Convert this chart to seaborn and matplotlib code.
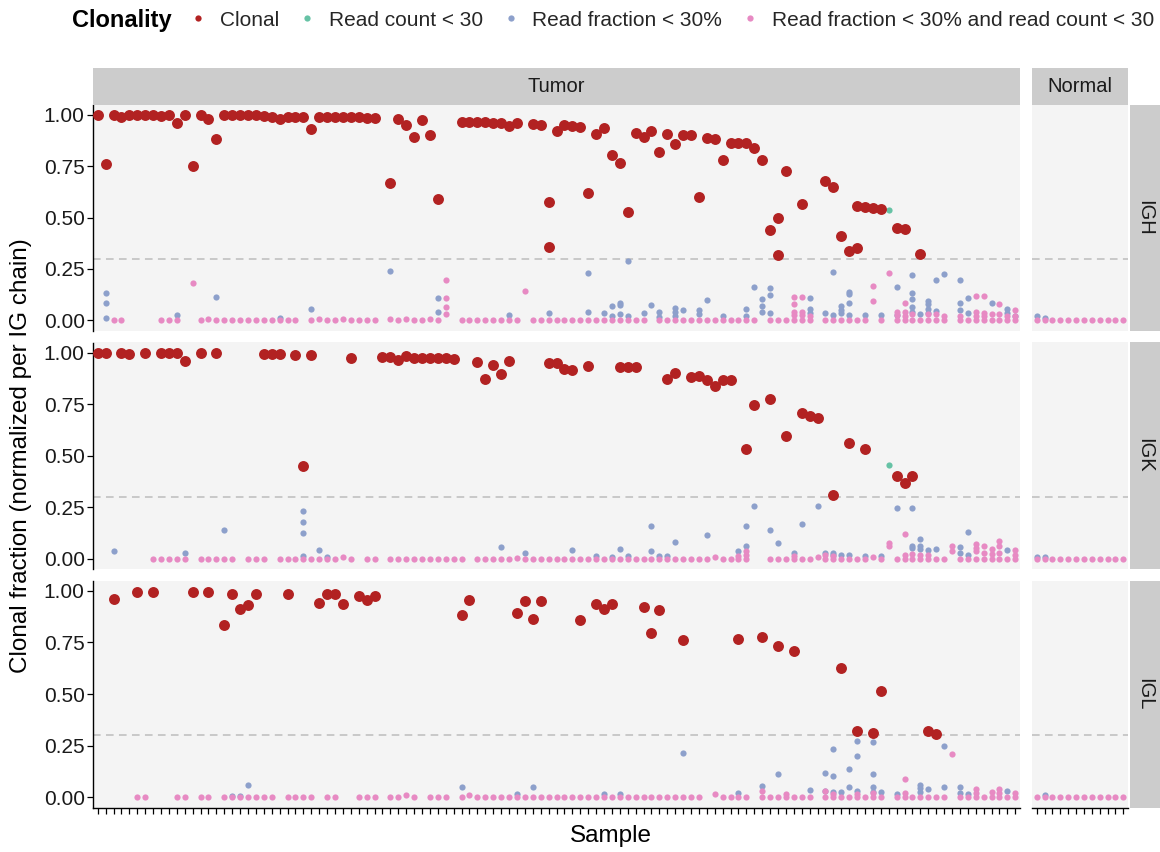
import matplotlib
matplotlib.use("Agg")
import matplotlib.pyplot as plt
import pandas as pd
import seaborn as sns
from matplotlib.lines import Line2D

sns.set_theme(style="white")
plt.rcParams['font.family'] = ['Liberation Sans', 'DejaVu Sans']

N_TUMOR = 117
N_NORMAL = 12
chains = ["IGH", "IGK", "IGL"]
groups = ["Tumor", "Normal"]
clonality_levels = ["Clonal", "Read count < 30", "Read fraction < 30%",
                    "Read fraction < 30% and read count < 30"]
palette = {"Clonal": "#B22222", "Read count < 30": "#66C2A5",
           "Read fraction < 30%": "#8DA0CB",
           "Read fraction < 30% and read count < 30": "#E78AC3"}

# ---------------- IGH (tumor) : (sample index, clonal fraction) ----------------
igh_clonal = [(0,1.00),(1,0.76),(2,1.00),(3,0.99),(4,1.00),(5,1.00),(6,1.00),(7,1.00),(8,0.995),
              (9,1.00),(10,0.96),(11,1.00),(12,0.75),(13,1.00),(14,0.98),(15,0.88),(16,1.00),(17,1.00),
              (18,1.00),(19,1.00),(20,1.00),(21,0.995),(22,0.99),(23,0.98),(24,0.99),(25,0.99),(26,0.99),
              (27,0.93),(28,0.99),(29,0.99),(30,0.99),(31,0.99),(32,0.99),(33,0.99),(34,0.985),(35,0.985),
              (37,0.67),(38,0.98),(39,0.95),(40,0.89),(41,0.975),(42,0.90),(43,0.59),(46,0.967),(47,0.967),
              (48,0.965),(49,0.963),(50,0.96),(51,0.96),(52,0.946),(53,0.96),(55,0.956),(56,0.95),
              (57,0.577),(57,0.356),(58,0.92),(59,0.95),(60,0.947),(61,0.94),(62,0.62),(63,0.907),
              (64,0.935),(65,0.805),(66,0.764),(67,0.527),(68,0.91),(69,0.89),(70,0.92),(71,0.82),
              (72,0.907),(73,0.857),(74,0.90),(75,0.90),(76,0.60),(77,0.886),(78,0.883),(79,0.78),
              (80,0.865),(81,0.865),(82,0.862),(83,0.837),(84,0.78),(85,0.44),(86,0.50),(86,0.317),
              (87,0.728),(89,0.567),(92,0.676),(93,0.647),(94,0.411),(95,0.335),(96,0.558),(96,0.351),
              (97,0.553),(98,0.548),(99,0.541),(101,0.449),(102,0.445),(104,0.323)]
igh_readcount = [(100,0.538)]
igh_readfrac = [(1,0.133),(1,0.086),(1,0.013),(10,0.024),(15,0.115),(23,0.01),(27,0.055),(37,0.24),
                (43,0.107),(43,0.04),(52,0.025),(57,0.035),(62,0.228),(62,0.04),(64,0.035),(65,0.07),
                (65,0.02),(66,0.085),(66,0.075),(66,0.03),(67,0.29),(67,0.02),(69,0.035),(70,0.075),
                (71,0.04),(71,0.015),(73,0.06),(73,0.04),(73,0.02),(74,0.05),(76,0.05),(76,0.03),
                (77,0.10),(79,0.02),(82,0.055),(82,0.02),(83,0.16),(84,0.102),(84,0.07),(84,0.038),
                (85,0.155),(85,0.125),(85,0.033),(90,0.107),(90,0.055),(90,0.033),(92,0.033),(93,0.237),
                (93,0.024),(94,0.07),(94,0.052),(94,0.033),(95,0.138),(95,0.128),(95,0.084),(95,0.024),
                (97,0.024),(99,0.024),(101,0.161),(101,0.024),(103,0.221),(103,0.133),(103,0.102),
                (103,0.065),(103,0.041),(104,0.03),(105,0.094),(105,0.078),(105,0.057),(105,0.033),
                (106,0.194),(106,0.044),(107,0.224),(109,0.194),(109,0.084),(109,0.049),(110,0.11),
                (110,0.033),(113,0.086),(115,0.057),(115,0.033),(116,0.02)]
igh_both = [(12,0.18),(44,0.198),(44,0.106),(44,0.066),(44,0.03),(54,0.14),(88,0.114),(88,0.078),
            (88,0.04),(88,0.025),(89,0.114),(89,0.04),(89,0.025),(90,0.02),(98,0.169),(98,0.096),
            (100,0.229),(101,0.04),(101,0.025),(102,0.084),(102,0.04),(102,0.02),(103,0.03),(105,0.03),
            (106,0.03),(107,0.02),(109,0.02),(111,0.118),(111,0.04),(111,0.02),(112,0.118),(112,0.035),
            (112,0.02),(113,0.03),(114,0.08),(114,0.03),(115,0.02),(116,0.05),(116,0.02),
            (2,0.0),(3,0.0),(8,0.0),(9,0.0),(10,0.0),(13,0.0),(14,0.006),(15,0.0),(16,0.0),(17,0.0),
            (18,0.0),(19,0.0),(20,0.0),(21,0.0),(22,0.0),(23,0.0),(24,0.0),(25,0.0),(27,0.0),(28,0.006),
            (29,0.0),(30,0.0),(31,0.006),(32,0.0),(33,0.0),(34,0.0),(35,0.0),(37,0.006),(38,0.0),
            (39,0.006),(40,0.0),(41,0.0),(42,0.008),(43,0.0),(46,0.0),(47,0.003),(48,0.0),(49,0.0),
            (50,0.0),(51,0.0),(52,0.0),(53,0.0),(55,0.0),(56,0.0),(57,0.0),(58,0.0),(59,0.0),(60,0.0),
            (61,0.0),(62,0.0),(63,0.0),(64,0.0),(65,0.0),(66,0.0),(67,0.0),(68,0.0),(69,0.0),(71,0.0),
            (72,0.0),(73,0.0),(74,0.0),(75,0.0),(76,0.0),(77,0.0),(78,0.0),(79,0.0),(80,0.0),(81,0.0),
            (82,0.0),(83,0.0),(85,0.0),(86,0.0),(87,0.0),(88,0.0),(89,0.0),(90,0.0),(92,0.0),(93,0.0),
            (94,0.0),(95,0.0),(96,0.0),(97,0.0),(99,0.0),(101,0.0),(102,0.0),(103,0.0),(104,0.0),
            (105,0.0),(106,0.0),(107,0.0),(109,0.0),(110,0.0),(111,0.0),(112,0.0),(113,0.0),(114,0.0),
            (115,0.0),(116,0.0)]

# ---------------- IGK (tumor) ----------------
igk_clonal = [(0,1.00),(1,1.00),(3,1.00),(4,0.995),(6,1.00),(8,1.00),(9,1.00),(10,1.00),(11,0.961),
              (13,0.997),(15,0.997),(21,0.995),(22,0.995),(23,0.995),(25,0.99),(26,0.451),(27,0.99),
              (32,0.977),(36,0.98),(37,0.98),(38,0.963),(39,0.985),(40,0.977),(41,0.975),(42,0.975),
              (43,0.973),(44,0.973),(45,0.97),(48,0.953),(49,0.875),(50,0.94),(51,0.898),(52,0.958),
              (57,0.95),(58,0.95),(59,0.92),(60,0.917),(62,0.938),(66,0.932),(67,0.93),(68,0.93),
              (72,0.872),(73,0.903),(75,0.883),(76,0.885),(77,0.866),(78,0.838),(79,0.869),(80,0.869),
              (82,0.532),(83,0.746),(85,0.777),(87,0.596),(89,0.709),(90,0.693),(91,0.681),(93,0.309),
              (95,0.563),(97,0.532),(101,0.401),(102,0.367),(103,0.40)]
igk_readcount = [(100,0.453)]
igk_readfrac = [(2,0.039),(11,0.028),(16,0.137),(26,0.233),(26,0.178),(26,0.125),(26,0.011),(28,0.044),
                (29,0.01),(51,0.057),(54,0.03),(60,0.04),(63,0.012),(65,0.01),(66,0.045),(67,0.015),
                (70,0.157),(70,0.035),(71,0.015),(72,0.015),(73,0.079),(77,0.115),(81,0.035),(82,0.157),
                (82,0.06),(83,0.254),(85,0.137),(86,0.074),(88,0.03),(89,0.167),(91,0.257),(92,0.03),
                (93,0.03),(93,0.02),(94,0.02),(95,0.02),(97,0.015),(99,0.015),(101,0.244),(103,0.244),
                (103,0.06),(103,0.05),(104,0.094),(104,0.06),(104,0.045),(105,0.04),(106,0.045),
                (109,0.055),(109,0.03),(110,0.131),(110,0.02),(115,0.04)]
igk_both = [(82,0.035),(82,0.02),(100,0.076),(100,0.06),(102,0.12),(102,0.02),(108,0.06),(108,0.035),
            (111,0.07),(111,0.05),(111,0.035),(112,0.06),(112,0.03),(113,0.045),(113,0.025),(114,0.087),
            (114,0.06),(114,0.03),(116,0.04),(116,0.02),(81,0.015),(88,0.015),(92,0.02),(93,0.015),
            (103,0.025),(104,0.02),(105,0.02),
            (7,0.0),(8,0.0),(9,0.0),(10,0.0),(11,0.0),(13,0.0),(14,0.0),(15,0.0),(16,0.0),(17,0.0),
            (19,0.0),(20,0.0),(21,0.0),(23,0.0),(24,0.0),(25,0.0),(26,0.0),(27,0.0),(28,0.0),(29,0.0),
            (30,0.0),(31,0.01),(32,0.0),(34,0.0),(35,0.0),(37,0.0),(38,0.0),(39,0.0),(40,0.0),(41,0.0),
            (42,0.0),(43,0.0),(44,0.0),(45,0.0),(46,0.0),(48,0.0),(49,0.0),(50,0.0),(51,0.0),(52,0.0),
            (53,0.005),(54,0.0),(55,0.0),(56,0.0),(57,0.0),(58,0.0),(59,0.0),(60,0.0),(61,0.0),(62,0.0),
            (63,0.0),(64,0.0),(65,0.0),(66,0.0),(67,0.0),(68,0.0),(69,0.0),(70,0.0),(71,0.0),(72,0.0),
            (73,0.0),(74,0.0),(75,0.0),(76,0.0),(77,0.0),(78,0.008),(79,0.0),(80,0.0),(81,0.0),(82,0.0),
            (85,0.0),(86,0.0),(87,0.0),(88,0.0),(89,0.0),(90,0.0),(91,0.01),(92,0.0),(93,0.0),(94,0.0),
            (95,0.0),(96,0.0),(97,0.0),(98,0.01),(99,0.0),(101,0.0),(102,0.0),(103,0.0),(104,0.0),
            (105,0.0),(106,0.0),(107,0.0),(109,0.0),(110,0.0),(111,0.0),(112,0.0),(113,0.0),(114,0.0),
            (115,0.0),(116,0.0)]

# ---------------- IGL (tumor) ----------------
igl_clonal = [(2,0.96),(5,0.995),(7,0.995),(12,0.995),(14,0.995),(16,0.832),(17,0.985),(18,0.913),
              (19,0.93),(20,0.985),(24,0.985),(28,0.942),(29,0.985),(30,0.985),(31,0.938),(33,0.974),
              (34,0.955),(35,0.974),(46,0.885),(47,0.956),(53,0.893),(54,0.953),(55,0.862),(56,0.953),
              (61,0.861),(63,0.934),(64,0.914),(65,0.934),(69,0.924),(70,0.796),(71,0.909),(74,0.764),
              (81,0.767),(84,0.778),(86,0.735),(88,0.707),(94,0.628),(96,0.319),(98,0.309),(99,0.516),
              (105,0.322),(106,0.306)]
igl_readcount = []
igl_readfrac = [(19,0.058),(17,0.005),(18,0.005),(46,0.049),(53,0.015),(55,0.05),(64,0.015),(66,0.015),
                (74,0.214),(81,0.02),(84,0.055),(86,0.11),(90,0.035),(92,0.117),(92,0.03),(93,0.232),
                (93,0.105),(93,0.025),(94,0.025),(95,0.137),(95,0.05),(96,0.272),(96,0.199),(96,0.03),
                (98,0.268),(98,0.11),(98,0.05),(98,0.025),(99,0.025),(101,0.015),(104,0.06),(104,0.045),
                (104,0.025),(105,0.04),(107,0.246),(107,0.05),(109,0.05),(109,0.02),(110,0.015),(115,0.03)]
igl_both = [(84,0.03),(92,0.03),(93,0.015),(96,0.015),(98,0.02),(102,0.086),(102,0.02),(108,0.207),
            (111,0.04),(111,0.02),(113,0.025),(114,0.04),(114,0.02),(116,0.02),(87,0.015),
            (5,0.0),(6,0.0),(10,0.0),(11,0.0),(13,0.0),(14,0.0),(16,0.0),(17,0.0),(18,0.0),(19,0.0),
            (20,0.0),(21,0.0),(22,0.0),(24,0.0),(25,0.0),(26,0.0),(27,0.0),(29,0.0),(30,0.0),(33,0.0),
            (34,0.0),(35,0.0),(37,0.0),(38,0.0),(39,0.01),(40,0.0),(42,0.0),(43,0.0),(44,0.0),(46,0.0),
            (47,0.01),(48,0.0),(49,0.0),(50,0.0),(51,0.0),(52,0.0),(53,0.0),(54,0.0),(55,0.0),(56,0.0),
            (57,0.0),(58,0.0),(59,0.0),(60,0.0),(61,0.0),(62,0.0),(63,0.0),(64,0.0),(65,0.0),(66,0.0),
            (67,0.0),(68,0.0),(69,0.0),(70,0.0),(71,0.0),(72,0.0),(73,0.0),(74,0.0),(75,0.0),(76,0.0),
            (78,0.015),(79,0.0),(80,0.0),(81,0.0),(82,0.0),(84,0.0),(85,0.0),(86,0.0),(87,0.0),(88,0.0),
            (89,0.0),(90,0.0),(92,0.0),(93,0.0),(94,0.0),(95,0.0),(96,0.0),(97,0.0),(98,0.0),(99,0.0),
            (101,0.0),(102,0.0),(103,0.0),(104,0.0),(105,0.0),(106,0.0),(107,0.0),(109,0.0),(110,0.0),
            (111,0.0),(112,0.0),(113,0.0),(114,0.0),(115,0.0),(116,0.0)]

# ---------------- Normal samples ----------------
normal_igh_readfrac = [(0,0.02),(1,0.01)]
normal_igh_both = [(0,0.0),(1,0.0),(2,0.0),(3,0.0),(4,0.0),(5,0.0),(6,0.0),(7,0.0),(8,0.0),(9,0.0),(10,0.0),(11,0.0)]
normal_igk_readfrac = [(0,0.008),(1,0.006)]
normal_igk_both = [(0,0.0),(1,0.0),(2,0.0),(3,0.0),(4,0.0),(5,0.0),(6,0.0),(7,0.0),(8,0.0),(9,0.0),(10,0.0),(11,0.0)]
normal_igl_readfrac = [(1,0.012)]
normal_igl_both = [(0,0.0),(1,0.0),(2,0.0),(3,0.0),(4,0.0),(5,0.0),(6,0.0),(7,0.0),(8,0.0),(9,0.0),(10,0.0),(11,0.0)]

y_ticks = [0.0, 0.25, 0.5, 0.75, 1.0]
y_tick_labels = ["0.00", "0.25", "0.50", "0.75", "1.00"]
threshold = 0.3

# ---------------- build long table ----------------
records = []
def add(chain, group, cls, pts):
    for s, v in pts:
        records.append((chain, group, s, v, cls))

tumor_sets = {"IGH": (igh_clonal, igh_readcount, igh_readfrac, igh_both),
              "IGK": (igk_clonal, igk_readcount, igk_readfrac, igk_both),
              "IGL": (igl_clonal, igl_readcount, igl_readfrac, igl_both)}
normal_sets = {"IGH": ([], [], normal_igh_readfrac, normal_igh_both),
               "IGK": ([], [], normal_igk_readfrac, normal_igk_both),
               "IGL": ([], [], normal_igl_readfrac, normal_igl_both)}
for ch in chains:
    for grp, sets in (("Tumor", tumor_sets), ("Normal", normal_sets)):
        for cls, pts in zip(clonality_levels, sets[ch]):
            add(ch, grp, cls, pts)
df = pd.DataFrame(records, columns=["chain", "group", "sample", "fraction", "clonality"])

# ---------------- layout ----------------
W, H = 1160, 852
fig = plt.figure(figsize=(W / 100, H / 100), dpi=100)

def add_ax(x0, y0, x1, y1):
    return fig.add_axes([x0 / W, 1 - y1 / H, (x1 - x0) / W, (y1 - y0) / H])

col_x = {"Tumor": (93, 1020), "Normal": (1032, 1128)}
row_y = {"IGH": (104.5, 330.5), "IGK": (342.5, 569.0), "IGL": (580.5, 807.5)}
nsamp = {"Tumor": N_TUMOR, "Normal": N_NORMAL}
draw_order = [("Read fraction < 30%", 20), ("Read fraction < 30% and read count < 30", 20),
              ("Read count < 30", 20), ("Clonal", 62)]

for ch in chains:
    for grp in groups:
        ax = add_ax(col_x[grp][0], row_y[ch][0], col_x[grp][1], row_y[ch][1])
        ax.set_facecolor("#F4F4F4")
        ax.axhline(threshold, color="#BDBDBD", lw=1.1, ls=(0, (5, 3.5)), zorder=1)
        sub = df[(df.chain == ch) & (df.group == grp)]
        for cls, size in draw_order:
            d = sub[sub.clonality == cls]
            if len(d):
                sns.scatterplot(data=d, x="sample", y="fraction", color=palette[cls], s=size,
                                linewidth=0, ax=ax, legend=False, zorder=3)
        ax.set_xlim(-0.6, nsamp[grp] - 0.4)
        ax.set_ylim(-0.05, 1.05)
        ax.set_xlabel("")
        ax.set_ylabel("")
        for sp in ax.spines.values():
            sp.set_visible(False)
        if grp == "Tumor":
            ax.spines["left"].set_visible(True)
            ax.spines["left"].set_color("black")
            ax.spines["left"].set_linewidth(1.0)
            ax.set_yticks(y_ticks)
            ax.set_yticklabels(y_tick_labels)
            ax.tick_params(axis="y", left=True, length=4, width=0.9, color="black",
                           labelsize=15, pad=2, labelcolor="#1A1A1A")
        else:
            ax.set_yticks([])
        if ch == "IGL":
            ax.spines["bottom"].set_visible(True)
            ax.spines["bottom"].set_color("black")
            ax.spines["bottom"].set_linewidth(1.0)
            ax.set_xticks(range(nsamp[grp]))
            ax.set_xticklabels([])
            ax.tick_params(axis="x", bottom=True, length=4.5, width=0.9, color="black")
        else:
            ax.set_xticks([])

# strips
for grp in groups:
    sa = add_ax(col_x[grp][0], 68, col_x[grp][1], 104.5)
    sa.set_facecolor("#CCCCCC")
    sa.set_xticks([]); sa.set_yticks([])
    for sp in sa.spines.values():
        sp.set_visible(False)
    sa.text(0.5, 0.5, grp, ha="center", va="center", fontsize=14.5, color="#1A1A1A",
            transform=sa.transAxes)
for ch in chains:
    sa = add_ax(1130, row_y[ch][0], 1160, row_y[ch][1])
    sa.set_facecolor("#CCCCCC")
    sa.set_xticks([]); sa.set_yticks([])
    for sp in sa.spines.values():
        sp.set_visible(False)
    sa.text(0.5, 0.5, ch, ha="center", va="center", fontsize=14.5, rotation=270,
            color="#1A1A1A", transform=sa.transAxes)

fig.text(21 / W, 1 - 456 / H, "Clonal fraction (normalized per IG chain)", rotation=90,
         ha="center", va="center", fontsize=17.5, color="black")
fig.text(611 / W, 1 - 836 / H, "Sample", ha="center", va="center", fontsize=17.5, color="black")

# legend
fig.text(72 / W, 1 - 20 / H, "Clonality", ha="left", va="center", fontsize=17,
         fontweight="bold", color="black")
handles = [Line2D([], [], marker="o", ls="", color=palette[c], markersize=4.5, markeredgewidth=0)
           for c in clonality_levels]
fig.legend(handles, clonality_levels, loc="center left", bbox_to_anchor=(188 / W, 1 - 20 / H),
           ncol=4, frameon=False, fontsize=15, handlelength=1.0, handletextpad=0.55,
           columnspacing=0.82, borderpad=0, borderaxespad=0)

fig.savefig("out.png", dpi=100, facecolor="white")
